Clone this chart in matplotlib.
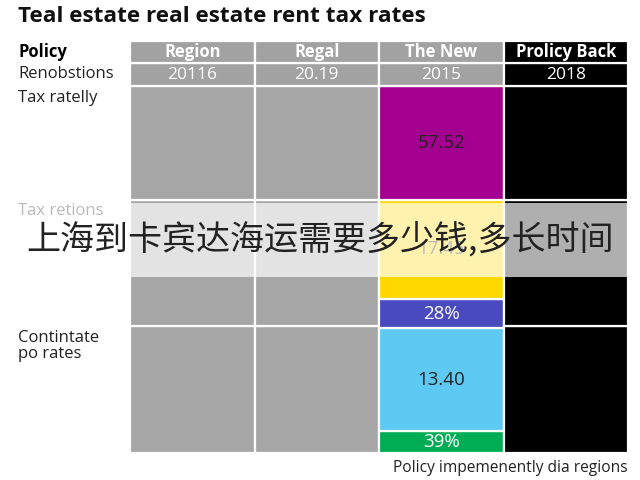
import matplotlib
matplotlib.use('Agg')
import matplotlib.pyplot as plt
from matplotlib.patches import Rectangle

plt.rcParams['font.family'] = ['Open Sans', 'Noto Sans CJK SC', 'DejaVu Sans']

# ── data ──────────────────────────────────────────────────────────────────────
columns      = ['Region', 'Regal', 'The New', 'Prolicy Back']
years        = ['20116', '20.19', '2015', '2018']
row_labels   = ['Tax ratelly', 'Tax retions', 'Contintate\npo rates']

# share of column height (%), bottom → top
plain_segments = [34.6, 34.3, 31.1]
new_segments   = [6, 28, 8, 27, 31]
new_labels     = ['39%', '13.40', '28%', '17.45', '57.52']
new_colors     = ['#00ad55', '#5ec9f3', '#4a4abf', '#ffd800', '#a3008f']
new_txt_colors = ['white', '#222222', 'white', '#222222', '#222222']

col_fill   = ['#a6a6a6', '#a6a6a6', None, '#000000']
head_fill  = ['#a2a2a2', '#a2a2a2', '#a2a2a2', '#000000']

overlay_text = '上海到卡宾达海运需要多少钱,多长时间'

# ── figure ────────────────────────────────────────────────────────────────────
W, H = 640, 480
fig = plt.figure(figsize=(6.4, 4.8), dpi=100)
fig.patch.set_facecolor('white')

# grid area in pixels: x 130..628, y 41..453
ax = fig.add_axes([130 / W, 1 - 453 / H, 498 / W, 412 / H])
ax.set_xlim(0, 4)
ax.set_ylim(0, 112.3)
ax.axis('off')

x = [i + 0.5 for i in range(4)]
edge = dict(edgecolor='white', linewidth=1.6, width=1.0)

for i in range(4):
    if col_fill[i] is None:
        bottom = 0
        for h, c, lab, tc in zip(new_segments, new_colors, new_labels, new_txt_colors):
            ax.bar(x[i], h, bottom=bottom, color=c, **edge)
            ax.text(x[i], bottom + h / 2, lab, ha='center', va='center',
                    fontsize=13.5, color=tc)
            bottom += h
    else:
        bottom = 0
        for h in plain_segments:
            ax.bar(x[i], h, bottom=bottom, color=col_fill[i], **edge)
            bottom += h
    # header rows
    ax.bar(x[i], 6.2, bottom=100, color=head_fill[i], **edge)
    ax.bar(x[i], 6.1, bottom=106.2, color=head_fill[i], **edge)
    ax.text(x[i], 103.1, years[i], ha='center', va='center',
            fontsize=12.5, color='white')
    ax.text(x[i], 109.25, columns[i], ha='center', va='center',
            fontsize=12, color='white', fontweight='bold')

# ── left labels / title / footer ─────────────────────────────────────────────
def px(xp, yp):
    return xp / W, 1 - yp / H

fig.text(*px(18, 16), 'Teal estate real estate rent tax rates',
         fontsize=16.2, fontweight='bold', va='center', color='#111111')
fig.text(*px(18, 52), 'Policy', fontsize=12, fontweight='bold', va='center')
fig.text(*px(18, 74), 'Renobstions', fontsize=12, va='center', color='#222222')
label_y = [98, 211, 346]
for lab, yp in zip(row_labels, label_y):
    fig.text(*px(18, yp), lab, fontsize=12, va='center', color='#222222',
             linespacing=1.05)
fig.text(*px(628, 468), 'Policy impemenently dia regions', fontsize=11.2,
         ha='right', va='center', color='#222222')

# ── translucent banner ───────────────────────────────────────────────────────
band = Rectangle((0, 1 - 277 / H), 1, 74 / H, transform=fig.transFigure,
                 facecolor='white', alpha=0.69, edgecolor='none', zorder=5)
fig.add_artist(band)
fig.text(*px(320, 240), overlay_text, fontsize=24.5, ha='center', va='center',
         color='#222222', zorder=6,
         family=['Noto Sans CJK SC', 'DejaVu Sans'])

fig.savefig('out.png', dpi=100)
